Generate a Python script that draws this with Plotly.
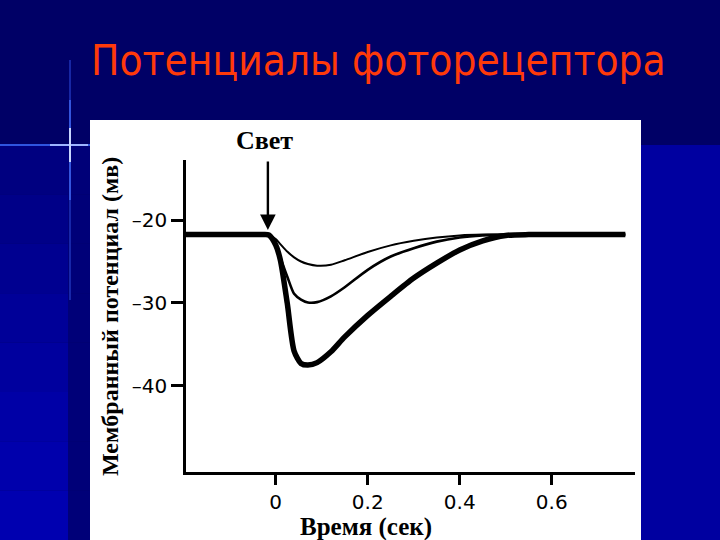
import plotly.graph_objects as go

# ---------------- data ----------------
time_s = [-0.195, -0.15, -0.1, -0.05, -0.03, -0.015, 0.0, 0.01, 0.025, 0.04, 0.055, 0.07,
          0.09, 0.12, 0.15, 0.2, 0.25, 0.3, 0.35, 0.4, 0.45, 0.5, 0.55, 0.6, 0.7, 0.76]
bright_mv = [-21.75, -21.75, -21.75, -21.75, -21.75, -21.8, -23.0, -24.8, -30.0, -35.8, -37.3, -37.5,
             -37.2, -35.9, -34.1, -31.5, -29.2, -27.0, -25.2, -23.6, -22.5, -21.85, -21.75,
             -21.75, -21.75, -21.75]
medium_mv = [-21.75, -21.75, -21.75, -21.75, -21.75, -21.8, -22.9, -24.5, -26.8, -28.9, -29.6, -29.95,
             -29.9, -29.2, -28.1, -26.0, -24.4, -23.4, -22.6, -22.1, -21.85, -21.75, -21.75,
             -21.75, -21.75, -21.75]
dim_mv = [-21.75, -21.75, -21.75, -21.75, -21.75, -21.8, -22.3, -22.9, -23.8, -24.5, -25.0, -25.3,
          -25.5, -25.4, -24.85, -23.85, -23.05, -22.5, -22.1, -21.85, -21.75, -21.75, -21.75,
          -21.75, -21.75, -21.75]

y_tick_vals = [-20, -30, -40]
y_tick_text = ["–20", "–30", "–40"]
x_tick_vals = [0, 0.2, 0.4, 0.6]
x_tick_text = ["0", "0.2", "0.4", "0.6"]

title_text = "Потенциалы фоторецептора"
y_title = "Мембранный потенциал (мв)"
x_title = "Время (сек)"
light_label = "Свет"
light_on_s = -0.017
arrow_tip_mv = -21.2

# ---------------- layout geometry ----------------
W, H = 720, 540
L, R, T, B = 186, 85, 160, 68
PW = W - L - R
PH = H - T - B


def px(x):
    return (x - L) / PW


def py(y):
    return (H - B - y) / PH


fig = go.Figure()

series = [(dim_mv, 2.0), (medium_mv, 2.6), (bright_mv, 5.5)]
for vals, w in series:
    fig.add_trace(go.Scatter(
        x=time_s, y=vals, mode="lines",
        line=dict(color="black", width=w, shape="spline", smoothing=0.7),
        hoverinfo="skip", showlegend=False,
    ))

shapes = []


def rect(x0, y0, x1, y1, color):
    shapes.append(dict(type="rect", xref="paper", yref="paper",
                       x0=px(x0), x1=px(x1), y0=py(y0), y1=py(y1),
                       fillcolor=color, line=dict(width=0), layer="below"))


def seg(x0, y0, x1, y1, color, w):
    shapes.append(dict(type="line", xref="paper", yref="paper",
                       x0=px(x0), x1=px(x1), y0=py(y0), y1=py(y1),
                       line=dict(color=color, width=w), layer="below"))


# background pieces
rect(641, 145, 720, 540, "#0000A0")
bands = ["#000080", "#000088", "#000090", "#000098", "#00009E", "#0000A6", "#0000AC", "#0000B0"]
n = len(bands)
for i, c in enumerate(bands):
    y0 = 145 + i * (395 / n)
    y1 = 145 + (i + 1) * (395 / n)
    rect(0, y0, 68, y1, c)
    rect(68, y0, 90, y1, "#000078")
# star / glint lines
seg(0, 145, 90, 145, "#2f55e0", 2)
seg(70, 60, 70, 300, "#1f33b8", 1.5)
seg(70, 100, 70, 200, "#3f66f0", 1.5)
seg(50, 145, 88, 145, "#9db4ff", 2)
seg(70, 128, 70, 162, "#c8d6ff", 2)

# white panel
rect(90, 120, 641, 540, "white")

annotations = [
    dict(text=title_text, xref="paper", yref="paper", x=px(378), y=py(60),
         xanchor="center", yanchor="middle", showarrow=False,
         font=dict(family="DejaVu Sans Condensed", size=42, color="#FF3A0A")),
    dict(text="<b>" + y_title + "</b>", xref="paper", yref="paper", x=px(110), y=py(317),
         xanchor="center", yanchor="middle", showarrow=False, textangle=-90,
         font=dict(family="Liberation Serif", size=24, color="black")),
    dict(text="<b>" + x_title + "</b>", xref="paper", yref="paper", x=px(366), y=py(527),
         xanchor="center", yanchor="middle", showarrow=False,
         font=dict(family="Liberation Serif", size=25, color="black")),
    dict(text="<b>" + light_label + "</b>", xref="paper", yref="paper", x=px(264), y=py(140),
         xanchor="center", yanchor="middle", showarrow=False,
         font=dict(family="Liberation Serif", size=26, color="black")),
    dict(text="", x=light_on_s, y=arrow_tip_mv, xref="x", yref="y",
         showarrow=True, ax=0, ay=-70, axref="pixel", ayref="pixel",
         arrowhead=2, arrowsize=1.3, arrowwidth=2.4, arrowcolor="black"),
]

fig.update_layout(
    width=W, height=H,
    margin=dict(l=L, r=R, t=T, b=B, pad=0),
    paper_bgcolor="#000066",
    plot_bgcolor="white",
    shapes=shapes,
    annotations=annotations,
    showlegend=False,
    xaxis=dict(range=[-0.195, 0.781], tickvals=x_tick_vals, ticktext=x_tick_text,
               showgrid=False, zeroline=False, showline=True, linecolor="black",
               linewidth=2.5, ticks="outside", ticklen=10, tickwidth=2.5, tickcolor="black",
               tickfont=dict(family="DejaVu Sans", size=20, color="black")),
    yaxis=dict(range=[-50.4, -12.75], tickvals=y_tick_vals, ticktext=y_tick_text,
               showgrid=False, zeroline=False, showline=True, linecolor="black",
               linewidth=2.5, ticks="outside", ticklen=12, tickwidth=2.5, tickcolor="black",
               tickfont=dict(family="DejaVu Sans", size=20, color="black")),
)

fig.write_html("out.html")
